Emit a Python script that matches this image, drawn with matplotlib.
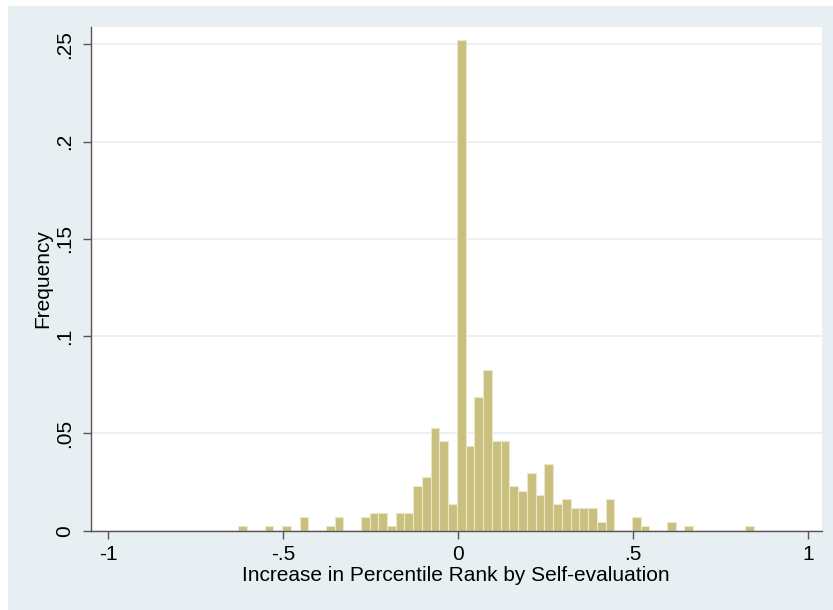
import numpy as np
import matplotlib
matplotlib.use("Agg")
import matplotlib.pyplot as plt
from matplotlib.patches import Rectangle

# histogram: bin start, width and counts per bin
bin_start = -0.628
bin_width = 0.025
counts = [1, 0, 0, 1, 0, 1, 0, 3, 0, 0,
          1, 3, 0, 0, 3, 4, 4, 1, 4, 4,
          10, 12, 23, 20, 6, 110, 19, 30, 36, 20,
          20, 10, 9, 13, 8, 15, 6, 7, 5, 5,
          5, 2, 7, 0, 0, 3, 1, 0, 0, 2,
          0, 1, 0, 0, 0, 0, 0, 0, 1]

xticks = [-1, -0.5, 0, 0.5, 1]
xtick_labels = ["-1", "-.5", "0", ".5", "1"]
yticks = [0, 0.05, 0.1, 0.15, 0.2, 0.25]
ytick_labels = ["0", ".05", ".1", ".15", ".2", ".25"]

x_title = "Increase in Percentile Rank by Self-evaluation"
y_title = "Frequency"

plt.rcParams["font.family"] = ["Liberation Sans", "DejaVu Sans"]

counts = np.array(counts, dtype=float)
freq = counts / counts.sum()
lefts = bin_start + bin_width * np.arange(len(counts))

W, H, DPI = 833, 610, 100
fig = plt.figure(figsize=(W / DPI, H / DPI), dpi=DPI, facecolor="white")
# Stata-like bluish graph region (small white border at left/top)
fig.add_artist(Rectangle((8 / W, 0), 1 - 8 / W, 1 - 6 / H,
                         transform=fig.transFigure, facecolor="#e8eff2",
                         edgecolor="none", zorder=-10))

ax = fig.add_axes([90.7 / W, 1 - 530.7 / H, (821.7 - 90.7) / W, (530.7 - 26.7) / H])
ax.set_facecolor("white")

ax.bar(lefts, freq, width=bin_width, align="edge", color="#c9c07f",
       edgecolor="#ebe6c6", linewidth=0.8, zorder=3)

ax.set_xlim(-1.0503, 1.040)
ax.set_ylim(0, 0.259)

ax.set_xticks(xticks)
ax.set_xticklabels(xtick_labels)
ax.set_yticks(yticks)
ax.set_yticklabels(ytick_labels)

ax.grid(axis="y", color="#e6eef1", linewidth=1.2, zorder=0)
ax.set_axisbelow(True)

for s in ["top", "right"]:
    ax.spines[s].set_visible(False)
for s in ["left", "bottom"]:
    ax.spines[s].set_color("#555555")
    ax.spines[s].set_linewidth(1.0)
    ax.spines[s].set_zorder(4)

fs = 15
ax.tick_params(axis="both", direction="out", length=6, width=1.0,
               color="#555555", labelsize=fs, labelcolor="black")
ax.tick_params(axis="x", pad=4)
ax.tick_params(axis="y", pad=6, labelrotation=90)
plt.setp(ax.get_yticklabels(), va="center")

ax.set_xlabel(x_title, fontsize=fs)
ax.set_ylabel(y_title, fontsize=fs)
ax.xaxis.set_label_coords(0.5, -0.070)
ax.yaxis.set_label_coords(-0.053, 0.5)

fig.savefig("out.png", dpi=DPI, facecolor=fig.get_facecolor())
